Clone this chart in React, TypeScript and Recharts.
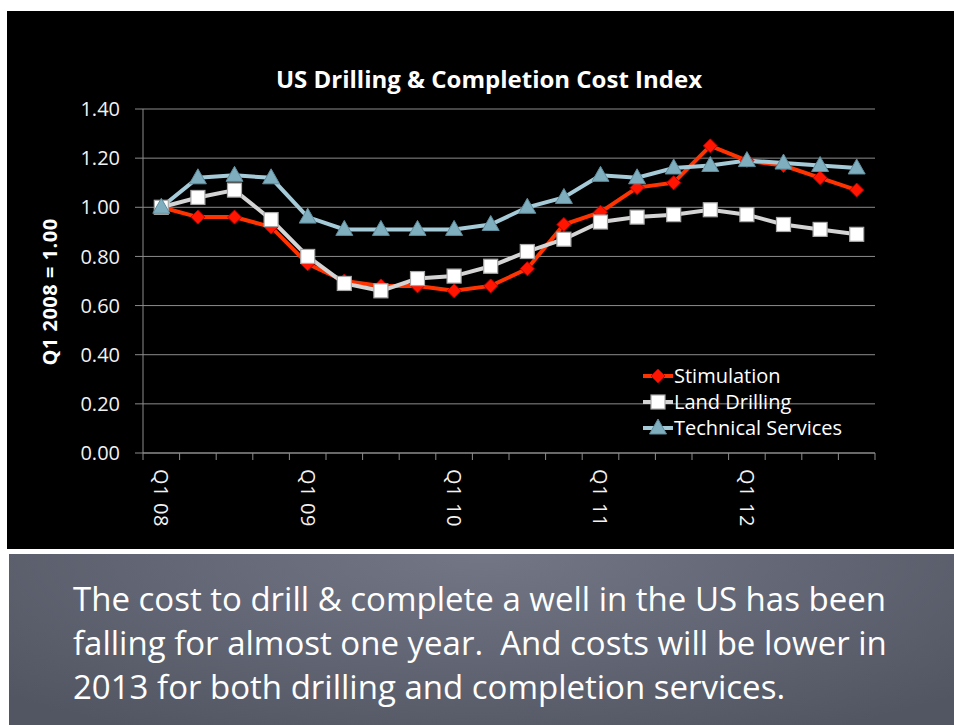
import React from "react";
import { LineChart, Line, XAxis, YAxis, CartesianGrid } from "recharts";

const quarters = [
  "Q1 08", "Q2 08", "Q3 08", "Q4 08",
  "Q1 09", "Q2 09", "Q3 09", "Q4 09",
  "Q1 10", "Q2 10", "Q3 10", "Q4 10",
  "Q1 11", "Q2 11", "Q3 11", "Q4 11",
  "Q1 12", "Q2 12", "Q3 12", "Q4 12",
];
const stimulation = [1.0, 0.96, 0.96, 0.92, 0.77, 0.7, 0.68, 0.68, 0.66, 0.68, 0.75, 0.93, 0.98, 1.08, 1.1, 1.25, 1.19, 1.17, 1.12, 1.07];
const landDrilling = [1.0, 1.04, 1.07, 0.95, 0.8, 0.69, 0.66, 0.71, 0.72, 0.76, 0.82, 0.87, 0.94, 0.96, 0.97, 0.99, 0.97, 0.93, 0.91, 0.89];
const technicalServices = [1.0, 1.12, 1.13, 1.12, 0.96, 0.91, 0.91, 0.91, 0.91, 0.93, 1.0, 1.04, 1.13, 1.12, 1.16, 1.17, 1.19, 1.18, 1.17, 1.16];
const yTicks = [0, 0.2, 0.4, 0.6, 0.8, 1.0, 1.2, 1.4];

const data = quarters.map((q, i) => ({
  q,
  stim: stimulation[i],
  land: landDrilling[i],
  tech: technicalServices[i],
}));

const FONT = "'Open Sans', Lato, sans-serif";
const W = 947;
const H = 538;
const M = { top: 98, right: 79, left: 0, bottom: 0 };
const Y_W = 136;
const X_H = 96;
const PLOT_W = W - Y_W - M.right;
const AXIS_Y = H - X_H;
const BAND = PLOT_W / quarters.length;
const GRID = "#8c8c8c";

const Diamond = ({ cx, cy }: any) =>
  cx == null ? null : (
    <path
      d={`M${cx},${cy - 7}L${cx + 7},${cy}L${cx},${cy + 7}L${cx - 7},${cy}Z`}
      fill="#ff1500"
      stroke="#c40000"
      strokeWidth={1}
    />
  );

const Square = ({ cx, cy }: any) =>
  cx == null ? null : (
    <rect x={cx - 7} y={cy - 7} width={14} height={14} fill="#ffffff" stroke="#a8a8a8" strokeWidth={1.2} />
  );

const Triangle = ({ cx, cy }: any) =>
  cx == null ? null : (
    <path
      d={`M${cx},${cy - 9}L${cx + 8.5},${cy + 6}L${cx - 8.5},${cy + 6}Z`}
      fill="#7faebf"
      stroke="#5e8c9c"
      strokeWidth={1}
    />
  );

const QuarterTick = ({ x, index, payload }: any) => {
  const left = x - BAND / 2;
  const label = payload.value.startsWith("Q1") ? payload.value : "";
  return (
    <g>
      <line x1={left} y1={AXIS_Y} x2={left} y2={AXIS_Y + 7} stroke={GRID} />
      {index === quarters.length - 1 && (
        <line x1={x + BAND / 2} y1={AXIS_Y} x2={x + BAND / 2} y2={AXIS_Y + 7} stroke={GRID} />
      )}
      {label && (
        <text
          x={x}
          y={AXIS_Y + 16}
          dy="0.36em"
          transform={`rotate(90, ${x}, ${AXIS_Y + 16})`}
          textAnchor="start"
          fill="#f2f2f2"
          fontSize={20}
          letterSpacing={0.6}
          fontFamily={FONT}
        >
          {label}
        </text>
      )}
    </g>
  );
};

const AxisTitle = () => (
  <text
    x={50}
    y={281}
    transform="rotate(-90, 50, 281)"
    textAnchor="middle"
    fill="#ffffff"
    fontSize={20}
    letterSpacing={0.5}
    fontWeight="bold"
    fontFamily={FONT}
  >
    Q1 2008 = 1.00
  </text>
);

const legendItems = [
  { name: "Stimulation", color: "#ff3300", Marker: Diamond },
  { name: "Land Drilling", color: "#d4d4d4", Marker: Square },
  { name: "Technical Services", color: "#a6cbd8", Marker: Triangle },
];

const LegendBox = () => (
  <div style={{ position: "absolute", left: 635, top: 352 }}>
    {legendItems.map(({ name, color, Marker }) => (
      <div key={name} style={{ display: "flex", alignItems: "center", height: 26 }}>
        <svg width={32} height={22}>
          <line x1={1} y1={11} x2={31} y2={11} stroke={color} strokeWidth={4} />
          <Marker cx={16} cy={11} />
        </svg>
        <span style={{ color: "#ffffff", fontSize: 20, fontFamily: FONT, lineHeight: "26px" }}>{name}</span>
      </div>
    ))}
  </div>
);

export default function App() {
  return (
    <div style={{ position: "absolute", left: 0, top: 0, width: 954, height: 725, background: "#ffffff", overflow: "hidden" }}>
      <div style={{ position: "absolute", left: 7, top: 11, width: W, height: H, background: "#000000" }}>
        <div
          style={{
            position: "absolute",
            left: 182,
            top: 56,
            width: 600,
            textAlign: "center",
            color: "#ffffff",
            fontFamily: FONT,
            fontWeight: "bold",
            fontSize: 24,
            lineHeight: "24px",
          }}
        >
          US Drilling &amp; Completion Cost Index
        </div>
        <LineChart width={W} height={H} data={data} margin={M}>
          <CartesianGrid vertical={false} stroke={GRID} strokeWidth={1} />
          <XAxis
            dataKey="q"
            scale="band"
            interval={0}
            height={X_H}
            tickLine={false}
            axisLine={{ stroke: GRID }}
            tick={<QuarterTick />}
          />
          <YAxis
            width={Y_W}
            domain={[0, 1.4]}
            ticks={yTicks}
            interval={0}
            tickFormatter={(v: number) => v.toFixed(2)}
            tickSize={8}
            tickMargin={15}
            tickLine={{ stroke: GRID }}
            axisLine={{ stroke: GRID }}
            tick={{ fill: "#f2f2f2", fontSize: 20, fontFamily: FONT }}
            label={<AxisTitle />}
          />
          <Line
            dataKey="stim"
            name="Stimulation"
            stroke="#ff3300"
            strokeWidth={4}
            dot={<Diamond />}
            activeDot={false}
            isAnimationActive={false}
          />
          <Line
            dataKey="land"
            name="Land Drilling"
            stroke="#d4d4d4"
            strokeWidth={4}
            dot={<Square />}
            activeDot={false}
            isAnimationActive={false}
          />
          <Line
            dataKey="tech"
            name="Technical Services"
            stroke="#a6cbd8"
            strokeWidth={4}
            dot={<Triangle />}
            activeDot={false}
            isAnimationActive={false}
          />
        </LineChart>
        <LegendBox />
      </div>
      <div style={{ position: "absolute", left: 7, top: 550, width: 947, height: 4, background: "#ffffff" }} />
      <div
        style={{
          position: "absolute",
          left: 9,
          top: 554,
          width: 945,
          height: 171,
          background: "radial-gradient(ellipse 70% 120% at 50% 0%, #737785 0%, #616573 55%, #525662 100%)",
          boxSizing: "border-box",
          paddingLeft: 64,
          paddingTop: 23,
          color: "#ffffff",
          fontFamily: FONT,
          fontSize: 33,
          lineHeight: "44px",
          whiteSpace: "nowrap",
        }}
      >
        <div>The cost to drill &amp; complete a well in the US has been</div>
        <div>falling for almost one year.&nbsp; And costs will be lower in</div>
        <div>2013 for both drilling and completion services.</div>
      </div>
    </div>
  );
}
